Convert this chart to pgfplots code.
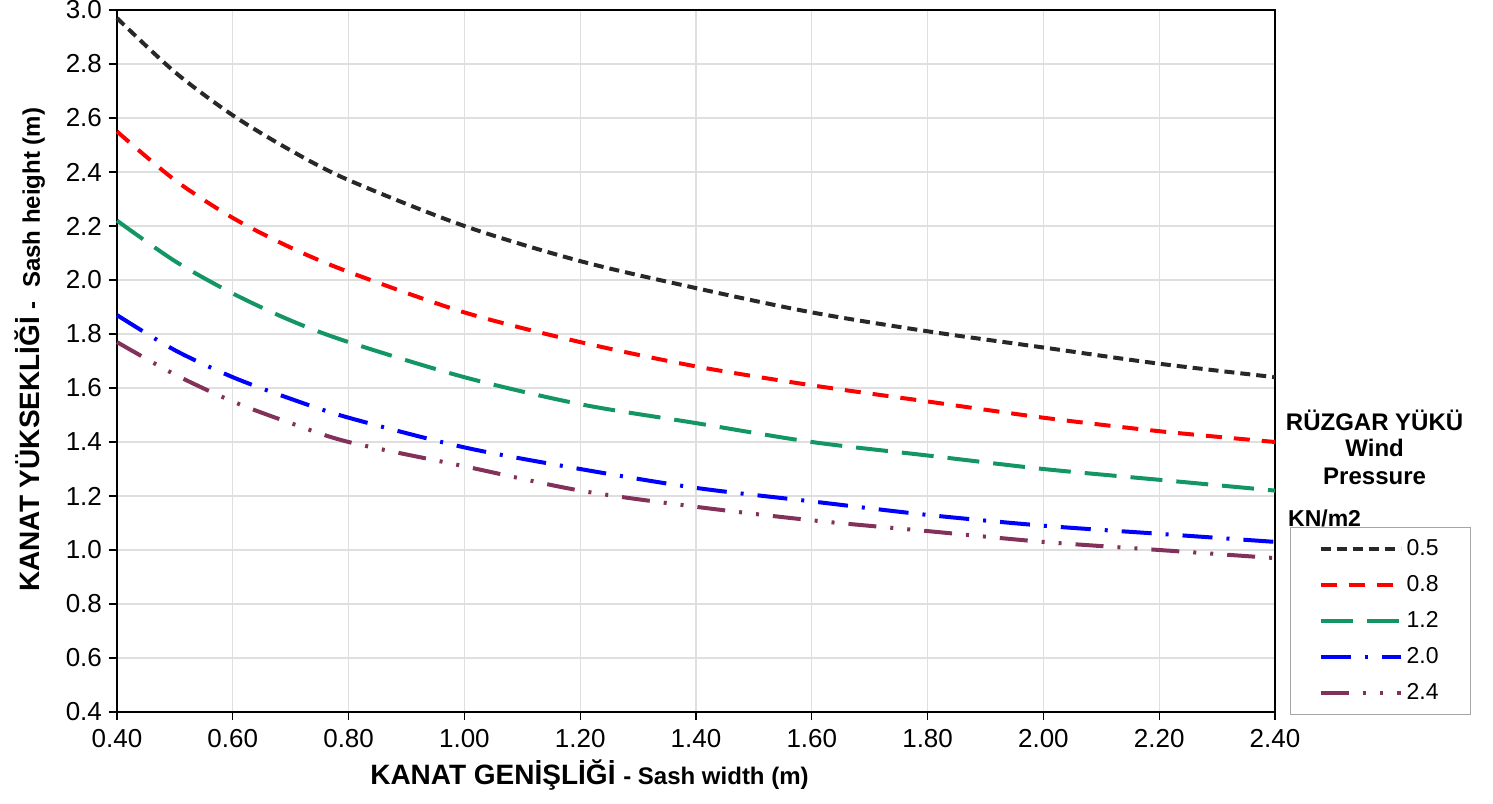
\documentclass[border=0pt]{standalone}
\usepackage{pgfplots}
\pgfplotsset{compat=1.18}
\usepackage{fontspec}
\setmainfont{Liberation Sans}
\definecolor{cblack}{RGB}{40,40,40}
\definecolor{cred}{RGB}{255,0,0}
\definecolor{cgreen}{RGB}{20,150,100}
\definecolor{cblue}{RGB}{0,0,255}
\definecolor{cpurple}{RGB}{130,50,90}
\begin{document}
\begin{tikzpicture}
\begin{axis}[
  scale only axis,
  width=579pt, height=351pt,
  xmin=0.4, xmax=2.4, ymin=0.4, ymax=3.0,
  xtick={0.4,0.6,...,2.41}, ytick={0.4,0.6,...,3.01},
  grid=major,
  major grid style={gray!25, line width=0.6pt},
  axis line style={black, line width=1.1pt},
  tick align=outside, tick pos=left,
  major tick length=4pt,
  tick style={black, line width=0.6pt},
  /pgf/number format/assume math mode=true,
  xticklabel style={yshift=-1pt, /pgf/number format/fixed, /pgf/number format/fixed zerofill, /pgf/number format/precision=2},
  yticklabel style={/pgf/number format/fixed, /pgf/number format/fixed zerofill, /pgf/number format/precision=1},
  ticklabel style={font=\fontsize{13}{15}\selectfont},
  xlabel={\fontsize{14}{16}\selectfont\bfseries KANAT GENİŞLİĞİ \fontsize{12}{14}\selectfont - Sash width (m)},
  xlabel style={at={(rel axis cs:0.408,0)}, anchor=center, yshift=-31.5pt},
  ylabel={\fontsize{14}{16}\selectfont\bfseries KANAT YÜKSEKLİĞİ \fontsize{12}{14}\selectfont - ~Sash height (m)},
  ylabel style={at={(rel axis cs:-0.0751,0.516)}, anchor=center},
  legend style={at={(rel axis cs:1.013,0.2635)}, anchor=north west,
    draw=gray!70, line width=0.6pt, font=\fontsize{11.5}{13}\selectfont,
    row sep=4.4pt, inner xsep=14pt, inner ysep=4pt,
    legend cell align=left},
  legend image code/.code={\draw[#1] (0pt,0pt) -- (40pt,0pt);},
  every axis plot/.append style={line width=2pt, smooth},
  clip=false,
]
\addplot[cblack, dash pattern=on 5pt off 3pt] coordinates {
(0.4,2.97)(0.5,2.77)(0.6,2.61)(0.7,2.48)(0.8,2.37)(1.0,2.20)(1.2,2.07)(1.4,1.97)(1.6,1.88)(1.8,1.81)(2.0,1.75)(2.2,1.69)(2.4,1.64)};
\addlegendentry{0.5}
\addplot[cred, dash pattern=on 8pt off 6pt] coordinates {
(0.4,2.55)(0.5,2.37)(0.6,2.23)(0.7,2.12)(0.8,2.03)(1.0,1.88)(1.2,1.77)(1.4,1.68)(1.6,1.61)(1.8,1.55)(2.0,1.49)(2.2,1.44)(2.4,1.40)};
\addlegendentry{0.8}
\addplot[cgreen, dash pattern=on 16pt off 7pt] coordinates {
(0.4,2.22)(0.5,2.07)(0.6,1.95)(0.7,1.85)(0.8,1.77)(1.0,1.64)(1.2,1.54)(1.4,1.47)(1.6,1.40)(1.8,1.35)(2.0,1.30)(2.2,1.26)(2.4,1.22)};
\addlegendentry{1.2}
\addplot[cblue, dash pattern=on 15pt off 7pt on 1.5pt off 7pt] coordinates {
(0.4,1.87)(0.5,1.74)(0.6,1.64)(0.7,1.56)(0.8,1.49)(1.0,1.38)(1.2,1.30)(1.4,1.23)(1.6,1.18)(1.8,1.13)(2.0,1.09)(2.2,1.06)(2.4,1.03)};
\addlegendentry{2.0}
\addplot[cpurple, dash pattern=on 14pt off 7pt on 1.5pt off 7pt on 1.5pt off 7pt] coordinates {
(0.4,1.77)(0.5,1.65)(0.6,1.55)(0.7,1.47)(0.8,1.40)(1.0,1.31)(1.2,1.22)(1.4,1.16)(1.6,1.11)(1.8,1.07)(2.0,1.03)(2.2,1.00)(2.4,0.97)};
\addlegendentry{2.4}
\node[font=\fontsize{12}{14}\selectfont\bfseries] at (rel axis cs:1.086,0.416) {RÜZGAR YÜKÜ};
\node[font=\fontsize{12}{14}\selectfont\bfseries] at (rel axis cs:1.086,0.376) {Wind};
\node[font=\fontsize{12}{14}\selectfont\bfseries] at (rel axis cs:1.086,0.336) {Pressure};
\node[font=\fontsize{11.5}{13}\selectfont\bfseries, anchor=west, inner xsep=0pt] at (rel axis cs:1.011,0.276) {KN/m2};
\coordinate (ll) at (rel axis cs:0,0);
\coordinate (ur) at (rel axis cs:1,1);
\end{axis}
\pgfresetboundingbox
\path ([shift={(-58.5pt,-45.5pt)}]ll) rectangle ([shift={(109pt,5pt)}]ur);
\end{tikzpicture}
\end{document}
